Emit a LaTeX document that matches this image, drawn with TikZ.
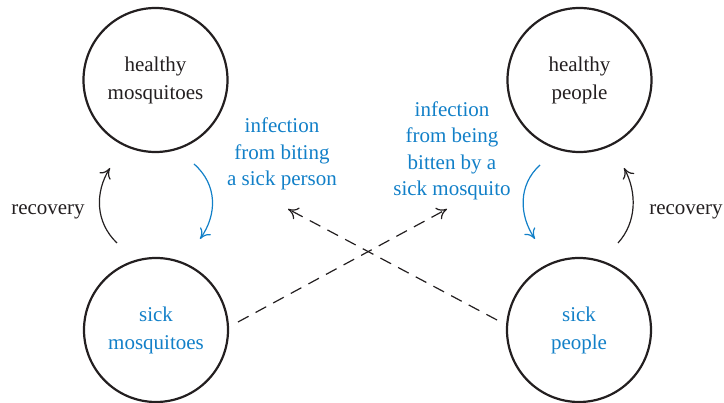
\documentclass[tikz,border=0pt]{standalone}
\usepackage{fontspec}
\setmainfont{LiberationSerif}[Extension=.ttf,UprightFont=*-Regular,BoldFont=*-Bold,ItalicFont=*-Italic]
\usetikzlibrary{arrows.meta}
\definecolor{infblue}{RGB}{18,128,200}
\definecolor{ink}{RGB}{35,31,32}
\begin{document}
\begin{tikzpicture}[x=1pt,y=-1pt,
  state/.style={circle,draw=ink,line width=2.2pt,minimum size=144pt,inner sep=0pt,align=center,font=\fontsize{21}{28}\selectfont},
  lbl/.style={align=center,font=\fontsize{21}{26.5}\selectfont},
  arr/.style={line width=1.2pt,-{Computer Modern Rightarrow[length=10pt,width=13pt]}},
  dashline/.style={arr,dash pattern=on 12pt off 8pt}]
\useasboundingbox (0,0) rectangle (724,403);
\node[state,text=ink] (hm) at (155.5,80) {healthy\\mosquitoes};
\node[state,text=infblue] (sm) at (156,330) {sick\\mosquitoes};
\node[state,text=ink] (hp) at (579.5,80) {healthy\\people};
\node[state,text=infblue] (sp) at (579,330) {sick\\people};
\node[lbl,text=infblue] (l1) at (282,154) {infection\\from biting\\a sick person};
\node[lbl,text=infblue] (l2) at (452,151) {infection\\from being\\bitten by a\\sick mosquito};
\node[lbl,text=ink] (r1) at (48,212) {recovery};
\node[lbl,text=ink] (r2) at (686,212) {recovery};
% free ends
\coordinate (a1) at (117,243); \coordinate (b1) at (110,168);
\coordinate (a2) at (618,243); \coordinate (b2) at (624,168);
\coordinate (a3) at (194,164); \coordinate (b3) at (200,239);
\coordinate (a4) at (540,165); \coordinate (b4) at (535,239);
\coordinate (a5) at (238,322); \coordinate (b5) at (447,209);
\coordinate (a6) at (497,320); \coordinate (b6) at (288,209);
\draw[arr,draw=ink] (a1) .. controls (95,222) and (95,192) .. (b1);
\draw[arr,draw=ink] (a2) .. controls (637,222) and (637,192) .. (b2);
\draw[arr,draw=infblue] (a3) .. controls (218,185) and (217,215) .. (b3);
\draw[arr,draw=infblue] (a4) .. controls (518,185) and (519,215) .. (b4);
\draw[dashline,draw=ink] (a5) -- (b5);
\draw[dashline,draw=ink] (a6) -- (b6);
\end{tikzpicture}
\end{document}
